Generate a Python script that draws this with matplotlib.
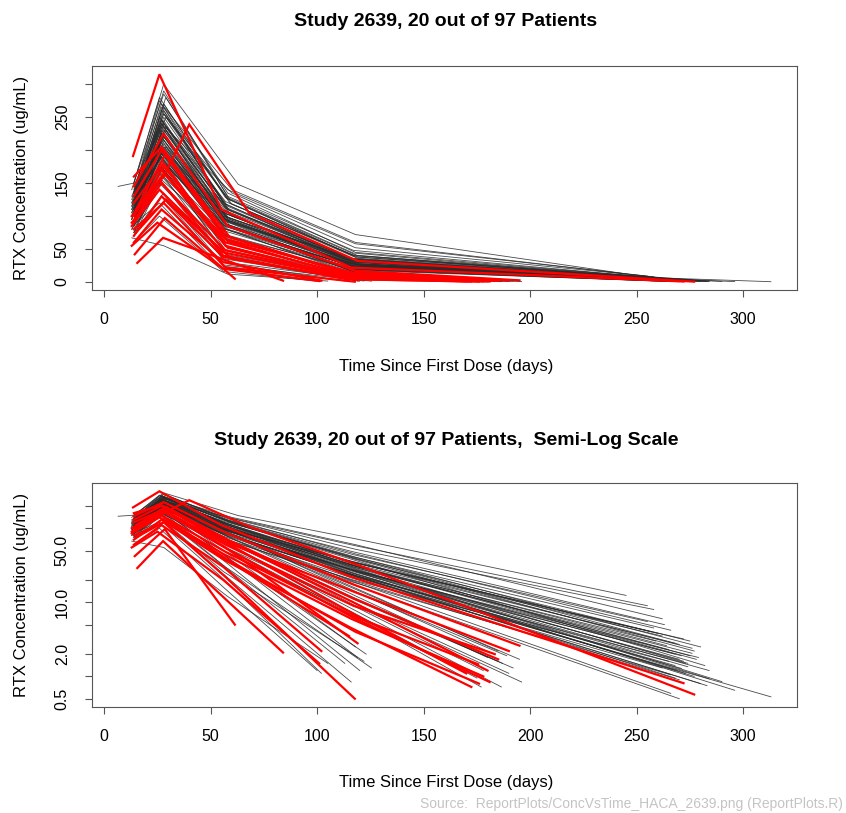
import matplotlib
matplotlib.use("Agg")
import matplotlib.pyplot as plt
from matplotlib.ticker import FixedLocator, FixedFormatter, NullLocator

plt.rcParams['font.family'] = ['Liberation Sans', 'DejaVu Sans']

# ---------------- data ----------------
title_top = "Study 2639, 20 out of 97 Patients"
title_bottom = "Study 2639, 20 out of 97 Patients,  Semi-Log Scale"
xlabel = "Time Since First Dose (days)"
ylabel = "RTX Concentration (ug/mL)"
source_note = "Source:  ReportPlots/ConcVsTime_HACA_2639.png (ReportPlots.R)"

x_ticks = [0, 50, 100, 150, 200, 250, 300]
y_lin_ticks = [0, 50, 100, 150, 200, 250, 300]
y_lin_labels = ["0", "50", "", "150", "", "250", ""]
y_log_ticks = [0.5, 1, 2, 5, 10, 20, 50, 100, 200]
y_log_labels = ["0.5", "", "2.0", "", "10.0", "", "50.0", "", ""]

# HACA-negative patients (black)
black_times = [
    [6.6, 14, 28, 63, 118, 245],
    [13, 27, 60, 118, 262],
    [14, 28, 58, 117, 263],
    [13, 26, 57, 116, 272],
    [15, 29, 59, 119, 280],
    [14, 27, 56, 117, 276],
    [13, 25, 57, 116, 271],
    [14, 28, 58, 118, 284],
    [15, 28, 60, 120, 296],
    [14, 27, 58, 118, 313],
    [13, 26, 56, 115, 270],
    [14, 27, 57, 117, 266],
    [14, 28, 58, 117, 268],
    [13, 27, 57, 118, 265],
    [15, 29, 59, 119, 270],
    [14, 27, 58, 117, 274],
    [13, 26, 56, 116, 268],
    [14, 28, 57, 117, 273],
    [14, 27, 58, 118, 277],
    [15, 28, 59, 118, 280],
    [13, 26, 56, 116, 275],
    [14, 27, 57, 117, 262],
    [14, 28, 58, 118, 266],
    [13, 27, 57, 117, 258],
    [15, 29, 60, 119, 275],
    [14, 27, 57, 117, 279],
    [14, 28, 58, 118, 284],
    [13, 26, 56, 116, 270],
    [14, 27, 57, 117, 272],
    [15, 28, 59, 118, 268],
    [14, 27, 58, 117, 255],
    [13, 26, 56, 116, 260],
    [14, 28, 58, 118, 277],
    [14, 27, 57, 117, 283],
    [15, 29, 59, 119, 290],
    [14, 28, 58, 118, 255],
    [13, 27, 60, 118, 258],
    [14, 28, 58, 117, 274],
    [14, 26, 57, 116, 266],
    [13, 27, 57, 117, 271],
    [15, 28, 59, 119, 278],
    [14, 27, 57, 117, 269],
    [14, 28, 58, 118, 273],
    [13, 26, 57, 117, 270],
    [14, 27, 57, 117, 265],
    [14, 28, 58, 118, 262],
    [13, 27, 57, 117, 259],
    [15, 28, 59, 119, 282],
    [14, 26, 56, 116, 268],
    [14, 27, 57, 117, 276],
    [13, 27, 57, 117, 264],
    [14, 28, 58, 118, 257],
    [14, 27, 57, 117, 189],
    [13, 26, 56, 116, 187],
    [14, 28, 58, 118, 196],
    [15, 28, 58, 117, 186.5],
    [14, 27, 57, 116, 177],
    [14, 27, 57, 117, 185],
    [13, 26, 56, 116, 180],
    [14, 28, 58, 117, 190],
    [15, 29, 59, 118, 183],
    [14, 27, 57, 117, 178],
    [13, 27, 57, 117, 192],
    [14, 28, 58, 118, 185],
    [14, 26, 56, 116, 175],
    [15, 28, 58, 118, 195],
    [14, 27, 57, 125.5],
    [13, 26, 56, 122],
    [14, 28, 57, 120],
    [14, 27, 56, 116],
    [13, 26, 55, 102],
    [15, 28, 58, 119],
    [14, 27, 57, 123],
    [14, 26, 56, 100],
    [13, 27, 57, 118],
    [14, 28, 58, 113],
    [13, 28, 58, 105],
]
black_conc = [
    [145, 150, 300, 148, 72, 12.4],
    [120, 270, 140, 60, 6.0],
    [135, 290, 130, 48, 5.0],
    [110, 250, 118, 35, 3.2],
    [140, 280, 125, 40, 2.5],
    [100, 230, 105, 30, 2.05],
    [95, 210, 95, 25, 1.28],
    [125, 260, 110, 28, 0.93],
    [105, 240, 100, 25, 0.65],
    [90, 200, 85, 22, 0.53],
    [115, 230, 90, 18, 0.5],
    [100, 220, 88, 19, 0.59],
    [130, 255, 115, 33, 2.8],
    [105, 235, 108, 31, 2.3],
    [95, 205, 92, 26, 1.7],
    [140, 265, 112, 30, 1.5],
    [85, 190, 86, 24, 1.4],
    [120, 245, 100, 25, 1.1],
    [110, 225, 96, 24, 1.0],
    [100, 215, 90, 22, 0.8],
    [125, 275, 120, 32, 1.9],
    [90, 185, 80, 21, 1.3],
    [150, 285, 135, 45, 4.2],
    [115, 245, 122, 41, 4.5],
    [130, 250, 118, 38, 3.0],
    [95, 200, 88, 27, 1.8],
    [105, 220, 98, 26, 1.2],
    [80, 175, 78, 20, 0.9],
    [135, 240, 104, 28, 1.6],
    [120, 230, 95, 23, 0.95],
    [110, 260, 128, 44, 5.5],
    [100, 210, 100, 36, 3.8],
    [125, 270, 126, 38, 2.2],
    [90, 195, 86, 23, 0.75],
    [115, 235, 102, 28, 0.85],
    [145, 255, 140, 58, 9.0],
    [130, 240, 135, 52, 8.0],
    [100, 205, 92, 26, 1.35],
    [75, 165, 72, 19, 1.05],
    [95, 215, 93, 27, 1.9],
    [120, 250, 108, 30, 1.7],
    [110, 190, 84, 23, 1.2],
    [85, 180, 80, 23, 1.5],
    [140, 280, 128, 40, 2.7],
    [70, 155, 70, 20, 1.6],
    [115, 235, 110, 34, 3.5],
    [100, 195, 95, 31, 3.0],
    [125, 265, 120, 36, 1.4],
    [90, 205, 96, 28, 2.0],
    [135, 245, 112, 35, 2.4],
    [110, 225, 104, 32, 2.6],
    [120, 200, 98, 34, 4.0],
    [110, 220, 80, 14, 1.9],
    [95, 200, 72, 12, 1.5],
    [120, 210, 70, 9, 0.84],
    [100, 190, 62, 8, 0.72],
    [85, 175, 55, 7, 0.72],
    [130, 240, 92, 16, 2.2],
    [105, 215, 82, 13, 1.8],
    [90, 185, 66, 10, 1.1],
    [115, 230, 85, 14, 2.0],
    [75, 160, 55, 9, 1.2],
    [100, 205, 70, 11, 1.3],
    [125, 195, 68, 11, 1.6],
    [80, 150, 50, 7.5, 0.95],
    [110, 225, 84, 15, 1.7],
    [90, 150, 30, 1.3],
    [80, 140, 26, 1.6],
    [100, 160, 35, 1.2],
    [70, 130, 24, 0.84],
    [85, 120, 22, 1.1],
    [95, 170, 40, 1.8],
    [110, 175, 42, 2.0],
    [60, 100, 16, 1.2],
    [120, 190, 48, 2.5],
    [75, 135, 28, 1.5],
    [67, 55, 12, 1.5],
]

# HACA-positive patients (red, 20 of 97)
red_times = [
    [13.6, 26, 55, 116, 272],
    [15, 28, 40, 68, 119, 277],
    [14.4, 28.5, 61.4],
    [15.6, 27.7, 84],
    [14, 28, 57, 117.7],
    [14, 28, 57, 117, 183.4],
    [13, 27, 57, 117, 175.6],
    [14, 27, 56, 116, 172.4],
    [15, 28, 58, 118, 181],
    [14, 28, 57, 119],
    [14, 27, 57, 117, 180],
    [13, 26, 56, 116, 178],
    [15, 29, 59, 118, 185],
    [14, 27, 56, 102],
    [14, 27, 58, 117, 170],
    [13, 26, 56, 115],
    [14, 27, 57, 117, 190],
    [15, 29, 60, 118, 176],
    [14, 28, 58, 118, 195],
    [13, 25, 56, 101],
]
red_conc = [
    [191, 315, 110, 22, 0.81],
    [110, 160, 239, 105, 32, 0.57],
    [42, 97, 5],
    [29, 67, 2.1],
    [80, 120, 22, 0.5],
    [100, 175, 60, 9, 2.0],
    [90, 150, 48, 6.5, 1.46],
    [70, 130, 38, 4.5, 0.72],
    [95, 165, 52, 6.0, 0.84],
    [120, 180, 55, 2.8],
    [160, 205, 70, 10, 1.2],
    [85, 140, 45, 6, 1.0],
    [110, 195, 68, 11, 1.7],
    [60, 110, 30, 2.2],
    [130, 200, 62, 7, 1.1],
    [100, 155, 40, 3.5],
    [90, 170, 65, 14, 2.2],
    [75, 125, 35, 4, 0.8],
    [145, 225, 85, 17, 2.6],
    [55, 90, 20, 1.5],
]

# ---------------- figure ----------------
W, H = 846, 813
fig = plt.figure(figsize=(W / 100, H / 100), dpi=100)

def px_box(left, top, right, bottom):
    return [left / W, 1 - bottom / H, (right - left) / W, (bottom - top) / H]

ax1 = fig.add_axes(px_box(92, 66, 797, 290))
ax2 = fig.add_axes(px_box(92, 483, 797, 707))

black_col = "#2a2a2a"
red_col = "#ff0000"

for ax in (ax1, ax2):
    for t, c in zip(black_times, black_conc):
        ax.plot(t, c, color=black_col, lw=0.6, alpha=0.85, solid_joinstyle="miter")
    for t, c in zip(red_times, red_conc):
        ax.plot(t, c, color=red_col, lw=1.6, solid_joinstyle="miter")

ax2.set_yscale("log")
for ax in (ax1, ax2):
    ax.margins(x=0.04, y=0.04)

axis_col = "#555555"
tick_fs = 11.5
for ax in (ax1, ax2):
    for s in ax.spines.values():
        s.set_color(axis_col)
        s.set_linewidth(0.8)
    ax.xaxis.set_major_locator(FixedLocator(x_ticks))
    ax.xaxis.set_major_formatter(FixedFormatter([str(v) for v in x_ticks]))
    ax.tick_params(axis="both", direction="out", length=5, width=0.8,
                   color=axis_col, labelsize=tick_fs, pad=11)

ax1.yaxis.set_major_locator(FixedLocator(y_lin_ticks))
ax1.yaxis.set_major_formatter(FixedFormatter(y_lin_labels))
ax2.yaxis.set_major_locator(FixedLocator(y_log_ticks))
ax2.yaxis.set_major_formatter(FixedFormatter(y_log_labels))
ax2.yaxis.set_minor_locator(NullLocator())

for ax in (ax1, ax2):
    for lab in ax.get_yticklabels():
        lab.set_rotation(90)
        lab.set_va("center")

fig.text(446 / W, 1 - 22 / H, title_top, ha="center", va="center",
         fontsize=14, fontweight="bold")
fig.text(446 / W, 1 - 440 / H, title_bottom, ha="center", va="center",
         fontsize=14, fontweight="bold")
fig.text(446 / W, 1 - 366 / H, xlabel, ha="center", va="center", fontsize=12)
fig.text(446 / W, 1 - 782 / H, xlabel, ha="center", va="center", fontsize=12)
fig.text(22 / W, 1 - 178 / H, ylabel, ha="center", va="center",
         rotation=90, fontsize=12)
fig.text(22 / W, 1 - 595 / H, ylabel, ha="center", va="center",
         rotation=90, fontsize=12)
fig.text(843 / W, 1 - 804 / H, source_note, ha="right", va="center",
         fontsize=10, color="#c4c4c4")

fig.savefig("out.png", dpi=100)
